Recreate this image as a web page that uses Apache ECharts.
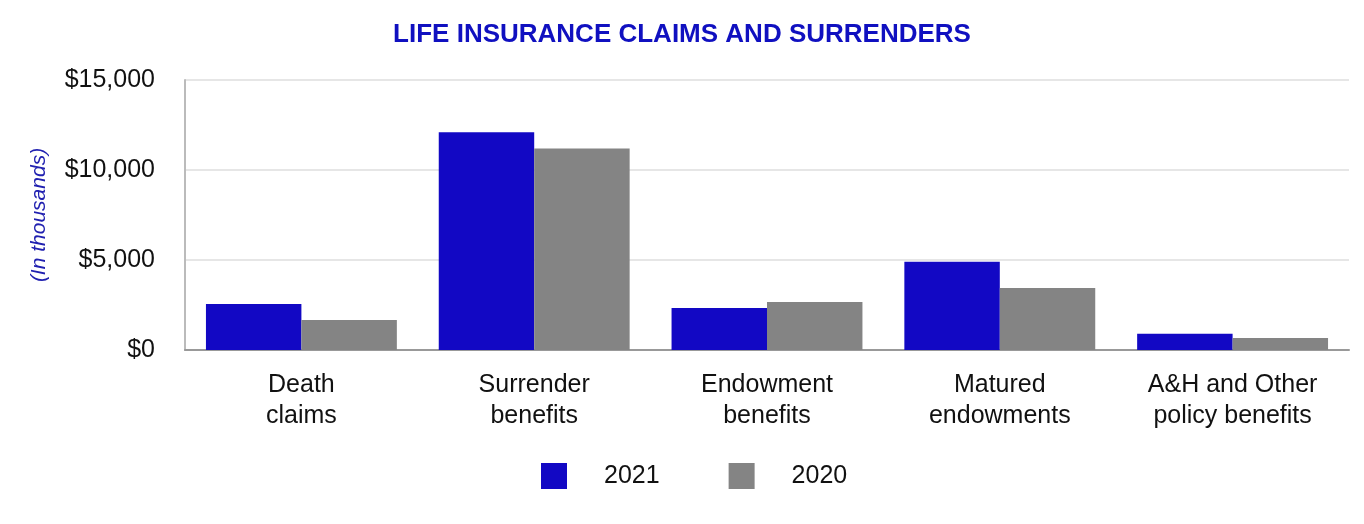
<!DOCTYPE html>
<html><head><meta charset="utf-8">
<script src="https://cdn.jsdelivr.net/npm/echarts@6/dist/echarts.min.js"></script>
<style>html,body{margin:0;padding:0;background:#fff}#c{width:1364px;height:524px}</style>
</head><body><div id="c"></div>
<script>
var categories = ['Death\nclaims', 'Surrender\nbenefits', 'Endowment\nbenefits', 'Matured\nendowments', 'A&H and Other\npolicy benefits'];
var values2021 = [2550, 12100, 2330, 4900, 900];
var values2020 = [1670, 11200, 2670, 3450, 670];
var yTicks = [0, 5000, 10000, 15000];

var chart = echarts.init(document.getElementById('c'));
chart.setOption({
  animation: false,
  title: {text: 'LIFE INSURANCE CLAIMS AND SURRENDERS', left: 'center', top: 17,
    textStyle: {color: '#1010C0', fontSize: 26, fontWeight: 'bold', fontFamily: 'Liberation Sans'}},
  legend: {bottom: 30, left: 536, itemWidth: 26, itemHeight: 26, itemGap: 69,
    textStyle: {fontSize: 25, color: '#111', fontFamily: 'Liberation Sans', padding: [0, 0, 0, 32]},
    data: [{name: '2021', icon: 'rect'}, {name: '2020', icon: 'rect'}]},
  grid: {left: 185, right: 15, top: 80, bottom: 174},
  xAxis: {type: 'category', data: categories,
    axisLine: {lineStyle: {color: '#999', width: 2}}, axisTick: {show: false},
    axisLabel: {fontSize: 25, color: '#111', fontFamily: 'Liberation Sans', lineHeight: 31, margin: 20}},
  yAxis: {type: 'value', min: 0, max: 15000, interval: 5000,
    name: '(In thousands)', nameLocation: 'middle', nameGap: 135, nameRotate: 90,
    nameTextStyle: {color: '#2020B0', fontSize: 21, fontStyle: 'italic', fontFamily: 'Liberation Sans'},
    axisLine: {show: true, lineStyle: {color: '#bbb', width: 2}}, axisTick: {show: false},
    splitLine: {lineStyle: {color: '#e6e6e6', width: 2}},
    axisLabel: {fontSize: 25, color: '#111', fontFamily: 'Liberation Sans', margin: 30,
      formatter: function (v) { return yTicks.indexOf(v) >= 0 ? '$' + v.toLocaleString('en-US') : ''; }}},
  series: [
    {name: '2021', type: 'bar', data: values2021, itemStyle: {color: '#1208C4'}, barGap: '0%', barCategoryGap: '18%'},
    {name: '2020', type: 'bar', data: values2020, itemStyle: {color: '#848484'}}
  ]
});
</script></body></html>
